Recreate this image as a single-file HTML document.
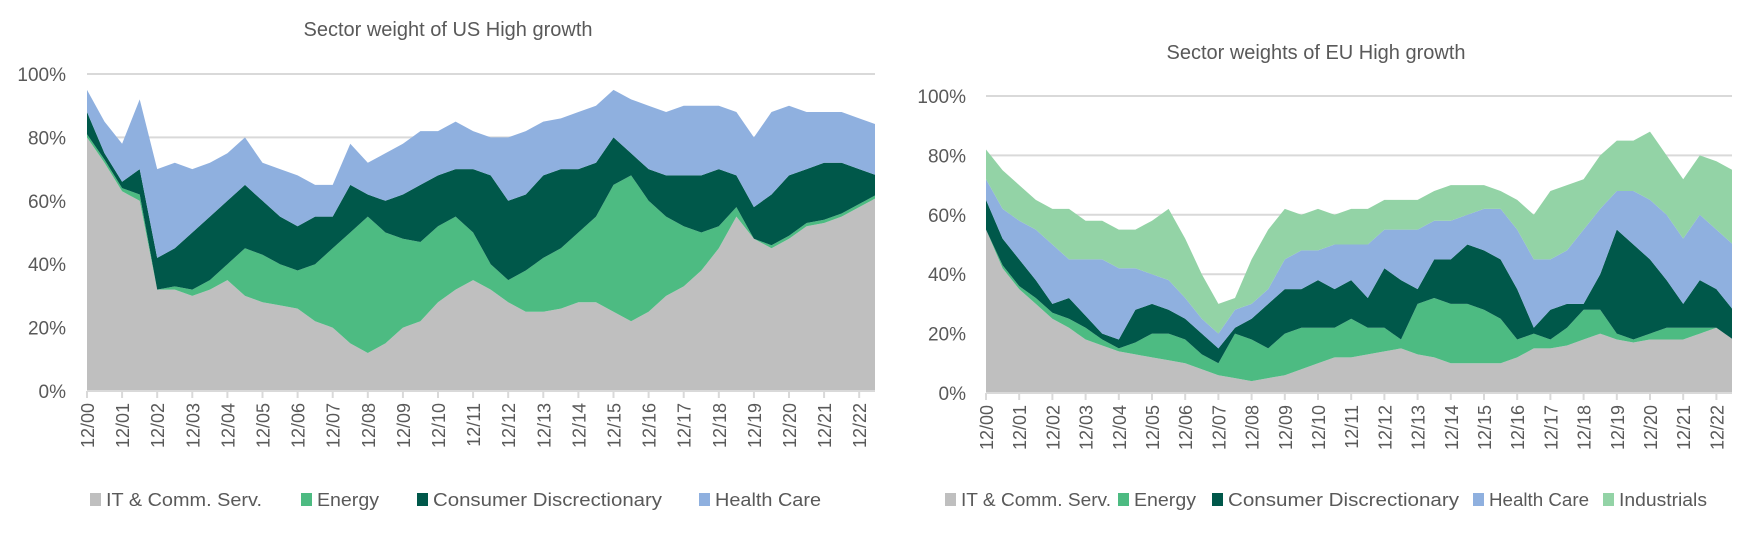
<!DOCTYPE html>
<html><head><meta charset="utf-8"><style>
html,body{margin:0;padding:0;background:#fff;}
svg{display:block;font-family:"Liberation Sans",sans-serif;}
</style></head><body>
<svg id="c" width="1756" height="536" viewBox="0 0 1756 536"></svg>
<script>
// time in years since 12/00, half-year steps
const years = ["12/00","12/01","12/02","12/03","12/04","12/05","12/06","12/07","12/08","12/09","12/10","12/11","12/12","12/13","12/14","12/15","12/16","12/17","12/18","12/19","12/20","12/21","12/22"];
const yTicks = ["0%","20%","40%","60%","80%","100%"];
// US: cumulative stacked share tops (%) per sector, half-year samples
const usIT = [80,72,63,60,32,32,30,32,35,30,28,27,26,22,20,15,12,15,20,22,28,32,35,32,28,25,25,26,28,28,25,22,25,30,33,38,45,55,48,45,48,52,53,55,58,61];
const usEnergy = [81,73,64,62,32,33,32,35,40,45,43,40,38,40,45,50,55,50,48,47,52,55,50,40,35,38,42,45,50,55,65,68,60,55,52,50,52,58,48,46,49,53,54,56,59,62];
const usCons = [88,75,66,70,42,45,50,55,60,65,60,55,52,55,55,65,62,60,62,65,68,70,70,68,60,62,68,70,70,72,80,75,70,68,68,68,70,68,58,62,68,70,72,72,70,68];
const usHealth = [95,85,78,92,70,72,70,72,75,80,72,70,68,65,65,78,72,75,78,82,82,85,82,80,80,82,85,86,88,90,95,92,90,88,90,90,90,88,80,88,90,88,88,88,86,84];
// EU: cumulative stacked share tops (%)
const euIT = [55,42,35,30,25,22,18,16,14,13,12,11,10,8,6,5,4,5,6,8,10,12,12,13,14,15,13,12,10,10,10,10,12,15,15,16,18,20,18,17,18,18,18,20,22,18];
const euEnergy = [55,43,36,32,27,25,22,18,15,17,20,20,18,13,10,20,18,15,20,22,22,22,25,22,22,18,30,32,30,30,28,25,18,20,18,22,28,28,20,18,20,22,22,22,22,18];
const euCons = [65,52,45,38,30,32,26,20,18,28,30,28,25,20,15,22,25,30,35,35,38,35,38,32,42,38,35,45,45,50,48,45,35,22,28,30,30,40,55,50,45,38,30,38,35,28];
const euHealth = [72,62,58,55,50,45,45,45,42,42,40,38,32,25,20,28,30,35,45,48,48,50,50,50,55,55,55,58,58,60,62,62,55,45,45,48,55,62,68,68,65,60,52,60,55,50];
const euInd = [82,75,70,65,62,62,58,58,55,55,58,62,52,40,30,32,45,55,62,60,62,60,62,62,65,65,65,68,70,70,70,68,65,60,68,70,72,80,85,85,88,80,72,80,78,75];

const NS="http://www.w3.org/2000/svg";
const svg=document.getElementById('c');
function mk(tag,attrs,parent){const e=document.createElementNS(NS,tag);for(const k in attrs)e.setAttribute(k,attrs[k]);(parent||svg).appendChild(e);return e;}
const COL={it:"#bfbfbf",en:"#4dbb82",cd:"#00584a",hc:"#8fb0df",ind:"#93d3a6"};

function chart(cfg){
  const g=mk('g',{});
  
  
  const xs=t=>cfg.x0+t*cfg.dx;
  const ys=v=>cfg.y0-v/100*(cfg.y0-cfg.y100);
  const t=mk('text',{x:cfg.tx,y:cfg.ty,'text-anchor':'middle','font-size':20,fill:'#595959'},g);
  t.textContent=cfg.title;
  
  
  yTicks.forEach((lab,i)=>{
    const v=i*20,y=ys(v);
    if(i>0){const l=mk('line',{x1:cfg.x0,x2:cfg.x1,y1:y,y2:y,stroke:'#d9d9d9','stroke-width':2},g);
      
      }
    const tx=mk('text',{x:cfg.lx,y:y+7,'text-anchor':'end','font-size':19,fill:'#595959'},g);
    tx.textContent=lab;
    
    
  });
  const layers=cfg.layers;
  const clip=mk('clipPath',{id:cfg.name+'-clip'},g);
  mk('rect',{x:cfg.x0,y:0,width:cfg.x1-cfg.x0,height:cfg.y0+1},clip);
  const pg=mk('g',{'clip-path':'url(#'+cfg.name+'-clip)'},g);
  layers.forEach((L,li)=>{
    const top=L.data, bot=li?layers[li-1].data:null;
    let pts=[];
    top.forEach((v,i)=>pts.push(xs(i*0.5).toFixed(1)+','+ys(v).toFixed(1)));
    for(let i=top.length-1;i>=0;i--)pts.push(xs(i*0.5).toFixed(1)+','+ys(bot?bot[i]:0).toFixed(1));
    const p=mk('polygon',{points:pts.join(' '),fill:L.color},pg);
    
    
  });
  mk('line',{x1:cfg.x0,x2:cfg.x1,y1:cfg.y0,y2:cfg.y0,stroke:'#d9d9d9','stroke-width':2},g);
  years.forEach((lab,i)=>{
    const x=xs(i);
    mk('line',{x1:x,x2:x,y1:cfg.y0,y2:cfg.y0+7,stroke:'#d9d9d9','stroke-width':2},g);
    const tx=mk('text',{transform:`translate(${x+7},${cfg.y0+12}) rotate(-90)`,'text-anchor':'end','font-size':18,fill:'#595959'},g);
    tx.textContent=lab;
    
    
  });
  cfg.legend.forEach(e=>{
    const lg=mk('g',{},g);
    
    
    mk('rect',{x:e.x,y:cfg.legY-13,width:11,height:13,fill:e.color},lg);
    const tx=mk('text',{x:e.x+16,y:cfg.legY,'font-size':18,fill:'#595959',textLength:e.w,lengthAdjust:'spacingAndGlyphs'},lg);
    tx.textContent=e.label;
  });
}

chart({name:'us-chart',title:'Sector weight of US High growth',tx:448,ty:36,x0:87,x1:875,dx:35.1,y0:391,y100:74,lx:66,legY:506,
  layers:[{key:'it',data:usIT,color:COL.it},{key:'energy',data:usEnergy,color:COL.en},{key:'consumer-disc',data:usCons,color:COL.cd},{key:'health-care',data:usHealth,color:COL.hc}],
  legend:[{x:90,label:'IT & Comm. Serv.',color:COL.it,w:156},{x:301,label:'Energy',color:COL.en,w:62},{x:417,label:'Consumer Discrectionary',color:COL.cd,w:229},{x:699,label:'Health Care',color:COL.hc,w:106}]});

chart({name:'eu-chart',title:'Sector weights of EU High growth',tx:1316,ty:59,x0:986,x1:1732,dx:33.2,y0:393,y100:96,lx:966,legY:506,
  layers:[{key:'it',data:euIT,color:COL.it},{key:'energy',data:euEnergy,color:COL.en},{key:'consumer-disc',data:euCons,color:COL.cd},{key:'health-care',data:euHealth,color:COL.hc},{key:'industrials',data:euInd,color:COL.ind}],
  legend:[{x:945,label:'IT & Comm. Serv.',color:COL.it,w:150},{x:1118,label:'Energy',color:COL.en,w:62},{x:1212,label:'Consumer Discrectionary',color:COL.cd,w:231},{x:1473,label:'Health Care',color:COL.hc,w:100},{x:1603,label:'Industrials',color:COL.ind,w:88}]});
</script>
</body></html>
